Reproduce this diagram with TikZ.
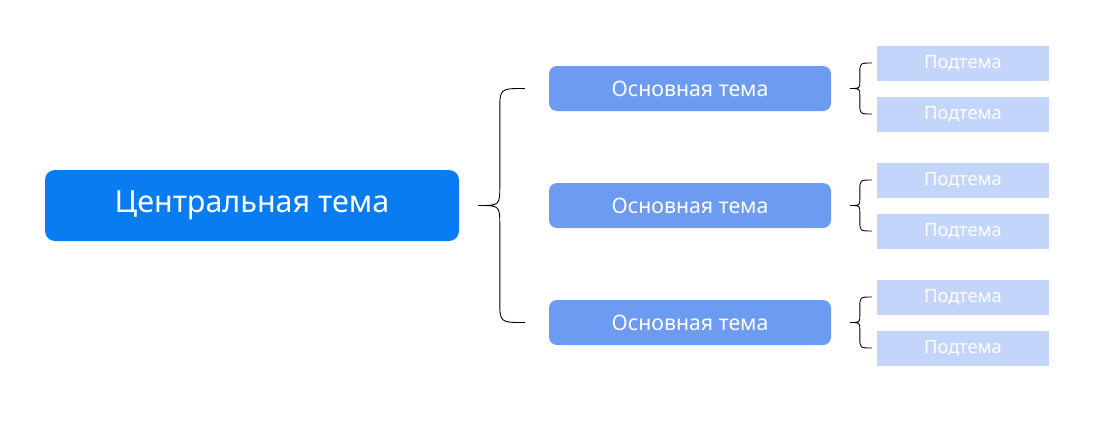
\documentclass[tikz,border=0pt]{standalone}
\usepackage{fontspec}
\setmainfont{Noto Sans}
\usetikzlibrary{positioning}

\definecolor{centralblue}{HTML}{087CF0}
\definecolor{mainblue}{HTML}{6E9BF2}
\definecolor{subblue}{HTML}{C4D5FB}

\tikzset{
    central/.style={fill=centralblue, text=white, rounded corners=10pt, minimum width=414pt, minimum height=71pt, font=\fontsize{30.5}{34}\selectfont},
    maintopic/.style={fill=mainblue, text=white, rounded corners=8pt, minimum width=282pt, minimum height=45pt, font=\fontsize{21.3}{25}\selectfont},
    subtopic/.style={fill=subblue, text=white, minimum width=172pt, minimum height=35pt, font=\fontsize{18.3}{21}\selectfont},
    brace/.style={black, line width=0.9pt}
}

\begin{document}
\begin{tikzpicture}[x=1pt,y=-1pt]
    \useasboundingbox (0,0) rectangle (1095,426);
    \node[central] (c) at (252,205.5) {Центральная тема};
    \node[maintopic] (m1) at (690,88.5) {Основная тема};
    \node[maintopic] (m2) at (690,205.5) {Основная тема};
    \node[maintopic] (m3) at (690,322.5) {Основная тема};
    \foreach \i/\ya/\yb in {1/63/114, 2/180/231, 3/297/348} {
        \node[subtopic] (s\i a) at (963,\ya) {Подтема};
        \node[subtopic] (s\i b) at (963,\yb) {Подтема};
        \coordinate (t\i) at ([xshift=-27pt]s\i a.west |- m\i);
        \draw[brace] ([xshift=-5pt]s\i a.west) .. controls ([xshift=-17pt]s\i a.west) .. ([xshift=-17pt,yshift=-11pt]s\i a.west)
            -- ([xshift=10pt,yshift=7pt]t\i)
            .. controls ([xshift=10pt]t\i) .. (t\i)
            .. controls ([xshift=10pt]t\i) .. ([xshift=10pt,yshift=-7pt]t\i)
            -- ([xshift=-17pt,yshift=11pt]s\i b.west)
            .. controls ([xshift=-17pt]s\i b.west) .. ([xshift=-5pt]s\i b.west);
    }
    \coordinate (tip) at ([xshift=19pt]c.east);
    \draw[brace] ([xshift=-24pt]m1.west) .. controls ([xshift=-49pt]m1.west) .. ([xshift=-49pt,yshift=-22pt]m1.west)
        -- ([xshift=-49pt,yshift=20pt]tip -| m1.west)
        .. controls ([xshift=-49pt]tip -| m1.west) .. (tip)
        .. controls ([xshift=-49pt]tip -| m1.west) .. ([xshift=-49pt,yshift=-20pt]tip -| m1.west)
        -- ([xshift=-49pt,yshift=22pt]m3.west)
        .. controls ([xshift=-49pt]m3.west) .. ([xshift=-24pt]m3.west);
\end{tikzpicture}
\end{document}
